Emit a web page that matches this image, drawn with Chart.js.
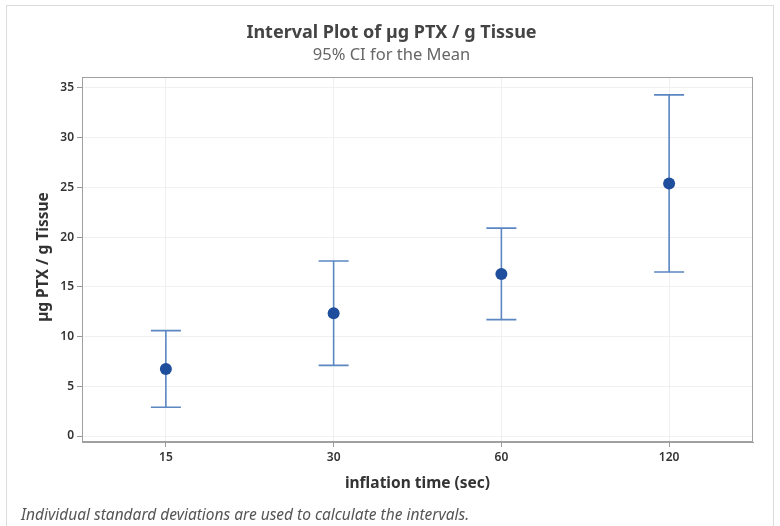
<!DOCTYPE html>
<html>
<head>
<meta charset="utf-8">
<script src="https://cdn.jsdelivr.net/npm/chart.js@4"></script>
<style>
  html, body { margin: 0; padding: 0; background: #fff; }
  #wrap { position: relative; width: 780px; height: 526px; overflow: hidden; }
  #frame { position: absolute; left: 6px; top: 5px; width: 768px; height: 540px; border: 1px solid #dcdcdc; box-sizing: border-box; }
  #note { position: absolute; left: 21px; top: 503px; font: italic 15.5px "Noto Sans", sans-serif; color: #555; }
  canvas { position: absolute; left: 0; top: 0; }
</style>
</head>
<body>
<div id="wrap">
  <div id="frame"></div>
  <canvas id="chart" width="780" height="526"></canvas>
  <div id="note">Individual standard deviations are used to calculate the intervals.</div>
</div>
<script>
// inflation time groups and 95% CI for mean
var categories = ["15", "30", "60", "120"];
var means = [6.75, 12.35, 16.3, 25.4];
var lower = [2.9, 7.1, 11.7, 16.5];
var upper = [10.6, 17.6, 20.9, 34.3];
var yTitle = 'µg PTX / g Tissue';

var errorBars = {
  id: 'errorBars',
  beforeDatasetsDraw: function (chart) {
    var ctx = chart.ctx;
    var x = chart.scales.x, y = chart.scales.y;
    ctx.save();
    ctx.strokeStyle = '#5b86c2';
    ctx.lineWidth = 1.6;
    for (var i = 0; i < categories.length; i++) {
      var px = x.getPixelForValue(i);
      var yl = y.getPixelForValue(lower[i]);
      var yu = y.getPixelForValue(upper[i]);
      ctx.beginPath();
      ctx.moveTo(px, yl); ctx.lineTo(px, yu);
      ctx.moveTo(px - 15, yl); ctx.lineTo(px + 15, yl);
      ctx.moveTo(px - 15, yu); ctx.lineTo(px + 15, yu);
      ctx.stroke();
    }
    ctx.restore();
  },
  afterDraw: function (chart) {
    var a = chart.chartArea, ctx = chart.ctx;
    ctx.save();
    ctx.strokeStyle = '#a0a0a0';
    ctx.lineWidth = 1;
    ctx.strokeRect(a.left + 0.5, a.top + 0.5, a.right - a.left - 1, a.bottom - a.top - 1);
    // y axis title
    ctx.translate(44, 257);
    ctx.rotate(-Math.PI / 2);
    ctx.fillStyle = '#333';
    ctx.font = 'bold 15.5px "Noto Sans"';
    ctx.textAlign = 'center';
    ctx.textBaseline = 'middle';
    ctx.fillText(yTitle, 0, 0);
    ctx.restore();
  }
};

new Chart(document.getElementById('chart'), {
  type: 'line',
  data: {
    labels: categories,
    datasets: [{
      data: means,
      showLine: false,
      pointRadius: 6,
      pointHoverRadius: 6,
      pointBackgroundColor: '#1f4e9c',
      pointBorderColor: '#1f4e9c',
      pointBorderWidth: 0
    }]
  },
  options: {
    responsive: false,
    animation: false,
    layout: { padding: { left: 30, right: 27, top: 10, bottom: 32 } },
    plugins: {
      legend: { display: false },
      tooltip: { enabled: false },
      title: {
        display: true,
        text: 'Interval Plot of µg PTX / g Tissue',
        color: '#444',
        font: { family: 'Noto Sans', size: 18, weight: 'bold' },
        padding: { top: 12, bottom: 2 }
      },
      subtitle: {
        display: true,
        text: '95% CI for the Mean',
        color: '#666',
        font: { family: 'Noto Sans', size: 16.5 },
        padding: { top: 0, bottom: 11.6 }
      }
    },
    scales: {
      x: {
        type: 'category',
        offset: true,
        afterFit: function (s) { s.height = 52; },
        grid: { offset: false, color: '#f0f0f0', tickColor: '#999', tickLength: 5 },
        border: { color: '#a0a0a0' },
        ticks: { color: '#333', font: { family: 'Noto Sans', size: 12, weight: '600' } },
        title: {
          display: true,
          text: 'inflation time (sec)',
          color: '#333',
          font: { family: 'Noto Sans', size: 15.5, weight: 'bold' },
          padding: { top: 4, bottom: 1 }
        }
      },
      y: {
        min: -0.6,
        max: 36.1,
        afterFit: function (s) { s.width = 52; },
        grid: { color: '#f0f0f0', tickColor: '#999', tickLength: 5 },
        border: { color: '#a0a0a0' },
        ticks: { stepSize: 5, includeBounds: false, color: '#333', font: { family: 'Noto Sans', size: 12, weight: '600' } },
        title: { display: false }
      }
    }
  },
  plugins: [errorBars]
});
</script>
</body>
</html>
